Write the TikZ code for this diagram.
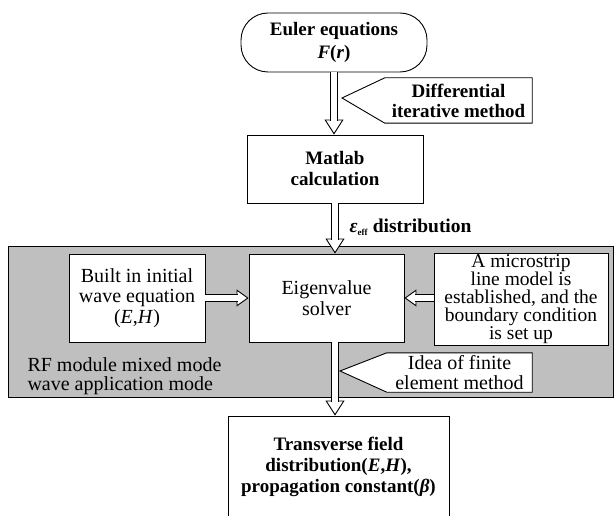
\documentclass[tikz,border=0pt]{standalone}
\usepackage{fontspec}
\setmainfont{Liberation Serif}
\usetikzlibrary{arrows.meta, backgrounds}
\tikzset{
  box/.style={rectangle, draw, line width=0.9pt, fill=white, inner sep=0pt, align=center, font=\fontsize{20}{20.5}\selectfont},
  boldbox/.style={box, font=\fontsize{19}{21}\selectfont\bfseries},
  note/.style={inner sep=0pt, align=center, font=\fontsize{19}{20}\selectfont\bfseries},
  callout/.style={draw, line width=0.9pt, fill=white, line join=miter},
  frame/.style={draw, line width=0.9pt, fill=black!25},
  hollow/.style={line width=0.9pt, -{Triangle[length=15pt, width=19pt, fill=white]},
    postaction={draw, -, double, double distance=6.5pt, shorten >=14pt}},
  hollow h/.style={line width=0.9pt, -{Triangle[length=12pt, width=17pt, fill=white]},
    postaction={draw, -, double, double distance=6pt, shorten >=11pt}},
}
\begin{document}
\begin{tikzpicture}[x=1pt, y=-1pt]
  \useasboundingbox (0,0) rectangle (616,516);
  \clip (0,0) rectangle (616,516);
  % main boxes
  \node[boldbox, rounded corners=27pt, minimum width=186pt, minimum height=59pt,
    font=\fontsize{19}{22.5}\selectfont\bfseries] (euler) at (334,42.5) {Euler equations\\\textit{F}(\textit{r})};
  \node[boldbox, minimum width=176pt, minimum height=68pt] (matlab) at (335,169) {Matlab\\calculation};
  \node[box, minimum width=155pt, minimum height=88pt] (eigen) at (326.5,298) {Eigenvalue\\solver};
  \node[box, minimum width=136pt, minimum height=88pt] (wave) at (137,298) {Built in initial\\wave equation\\(\textit{E},\textit{H})};
  \node[box, minimum width=174pt, minimum height=92pt, font=\fontsize{19.5}{18}\selectfont] (strip) at (521,299)
    {A microstrip\\line model is\\established, and the\\boundary condition\\is set up};
  \node[boldbox, minimum width=221pt, minimum height=102pt] (result) at (338.5,467)
    {Transverse field\\distribution(\textit{E},\textit{H}),\\propagation constant(\textit{β})};
  % labels
  \node[anchor=base west, font=\fontsize{19.5}{21}\selectfont\bfseries] (efflabel) at (346,232)
    {\textit{ε}\textsubscript{\fontsize{9}{9}\selectfont eff} distribution};
  \node[anchor=west, align=left, font=\fontsize{20}{19}\selectfont] (rflabel) at (24,376) {RF module mixed mode\\wave application mode};
  \node[note, minimum width=147pt, minimum height=45pt] (difnote) at (458.5,100.5) {Differential\\iterative method};
  \node[note, font=\fontsize{20}{20}\selectfont, minimum width=145pt, minimum height=39pt] (ideanote) at (459.5,372.5) {Idea of finite\\element method};
  \coordinate (diftip) at (342,98);
  \coordinate (ideatip) at (340,371);
  % frame and callouts behind
  \begin{scope}[on background layer]
    \draw[frame] (8,246) rectangle (613,397);
    \draw[callout] (diftip) -- (difnote.north west) -- (difnote.north east) -- (difnote.south east) -- (difnote.south west) -- cycle;
    \draw[callout] (ideatip) -- (ideanote.north west) -- (ideanote.north east) -- (ideanote.south east) -- (ideanote.south west) -- cycle;
  \end{scope}
  % arrows
  \draw[hollow] (euler.south) -- (euler.south |- matlab.north);
  \draw[hollow] (matlab.south) -- (matlab.south |- eigen.north);
  \draw[hollow] (matlab.south |- eigen.south) -- (matlab.south |- result.north);
  \draw[hollow h] (wave.east) -- (eigen.west);
  \draw[hollow h] (strip.west |- eigen.east) -- (eigen.east);
\end{tikzpicture}
\end{document}
